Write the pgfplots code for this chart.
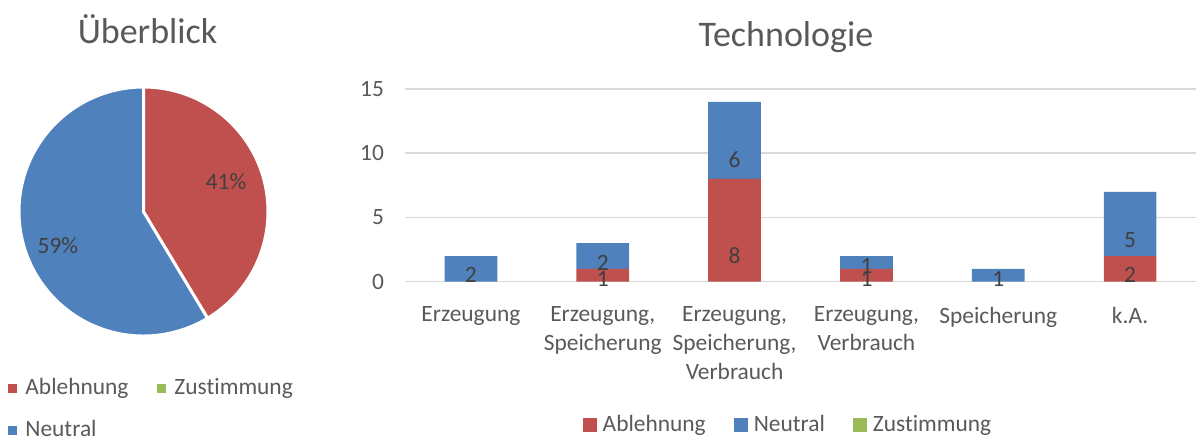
\documentclass[border=0pt]{standalone}
\usepackage{pgfplots}
\pgfplotsset{compat=1.18}
\usepackage{pgfplotstable}
\usepackage{fontspec}
\setmainfont{Carlito}[Ligatures=NoCommon]
\definecolor{cRed}{HTML}{C0504D}
\definecolor{cBlue}{HTML}{4F81BD}
\definecolor{cGreen}{HTML}{9BBB59}
\definecolor{cGrid}{HTML}{D9D9D9}
\definecolor{cText}{HTML}{595959}
\definecolor{cLabel}{HTML}{404040}

% Technologie: Ablehnung (a), Neutral (n) per category
\pgfplotstableread{
x a n
0 0 2
1 1 2
2 8 6
3 1 1
4 0 1
5 2 5
}\techdata

% Überblick totals: Ablehnung, Neutral, Zustimmung
\newcommand\pieA{12}
\newcommand\pieN{17}
\newcommand\pieZ{0}

\newcommand\fs{\fontsize{11.7}{14.5}\selectfont}

\begin{document}
\begin{tikzpicture}
\useasboundingbox (0pt,0pt) rectangle (598.5pt,-218pt);
\node[anchor=base, font=\fontsize{18}{21}\selectfont, text=cText] at (73.75pt,-21.5pt) {Überblick};
\node[anchor=base, font=\fontsize{18}{21}\selectfont, text=cText] at (393pt,-23pt) {Technologie};

\pgfmathsetmacro\angA{360*\pieA/(\pieA+\pieN+\pieZ)}
\pgfmathsetmacro\endA{90-\angA}
\begin{axis}[
  at={(71.75pt,-105.75pt)}, anchor=center,
  hide axis, scale only axis, width=124.5pt, height=124.5pt,
  xmin=-1, xmax=1, ymin=-1, ymax=1, clip=false,
  legend columns=2,
  legend image code/.code={\fill[#1] (0pt,-2.25pt) rectangle (4.5pt,2.25pt);},
  legend style={draw=none, fill=none, font=\fs, text=cText,
    at={(-0.044,-0.169)}, anchor=north west, inner sep=0pt,
    nodes={inner sep=0pt, inner xsep=4pt},
    /tikz/every even column/.append style={column sep=10.5pt},
    row sep=11.5pt},
  legend cell align=left,
]
\fill[cBlue, draw=white, line width=1.5pt] (axis cs:0,0) -- (axis cs:0,1)
  arc[start angle=90, end angle={\endA+360}, radius=62.25pt] -- cycle;
\fill[cRed, draw=white, line width=1.5pt] (axis cs:0,0) -- (axis cs:0,1)
  arc[start angle=90, end angle=\endA, radius=62.25pt] -- cycle;
\node[font=\fs, text=cLabel] at (axis cs:0.663,0.237) {41\%};
\node[font=\fs, text=cLabel] at (axis cs:-0.687,-0.277) {59\%};
\addlegendimage{fill=cRed, draw=none}
\addlegendentry{Ablehnung}
\addlegendimage{fill=cGreen, draw=none}
\addlegendentry{Zustimmung}
\addlegendimage{fill=cBlue, draw=none}
\addlegendentry{Neutral}
\end{axis}

\begin{axis}[
  at={(202.5pt,-140.85pt)}, anchor=south west,
  scale only axis, width=395.5pt, height=96.35pt,
  ybar stacked, bar width=26.35pt,
  xmin=-0.5, xmax=5.5, ymin=0, ymax=15,
  ytick={0,5,10,15},
  xtick=data,
  xticklabels={Erzeugung, {Erzeugung,\\Speicherung}, {Erzeugung,\\Speicherung,\\Verbrauch}, {Erzeugung,\\Verbrauch}, Speicherung, k.A.},
  xticklabel style={font=\fs, text=cText, align=center, text width=75pt, yshift=-9pt},
  yticklabel style={font=\fs, text=cText, xshift=-7pt},
  /pgf/number format/assume math mode=true,
  axis line style={draw=none}, major tick length=0pt,
  ymajorgrids, grid style={cGrid, line width=0.75pt},
  point meta=explicit symbolic,
  nodes near coords={\ifnum\pgfplotspointmeta>0 \pgfplotspointmeta\fi},
  every node near coord/.append style={anchor=center, font=\fs, text=cLabel,
     yshift={-\pgfplotspointmeta*1.6058pt}},
  legend columns=-1,
  legend image code/.code={\fill[#1] (0pt,-3.5pt) rectangle (7pt,3.5pt);},
  legend style={draw=none, fill=none, font=\fs, text=cText,
    at={(0.4867,-0.7437)}, anchor=center, inner sep=0pt,
    nodes={inner sep=0pt, inner xsep=3pt},
    /tikz/every even column/.append style={column sep=11pt}},
]
\addplot[fill=cRed, draw=none] table[x=x, y=a, meta=a] {\techdata};
\addlegendentry{Ablehnung}
\addplot[fill=cBlue, draw=none] table[x=x, y=n, meta=n] {\techdata};
\addlegendentry{Neutral}
\addlegendimage{fill=cGreen, draw=none}
\addlegendentry{Zustimmung}
\end{axis}
\end{tikzpicture}
\end{document}
